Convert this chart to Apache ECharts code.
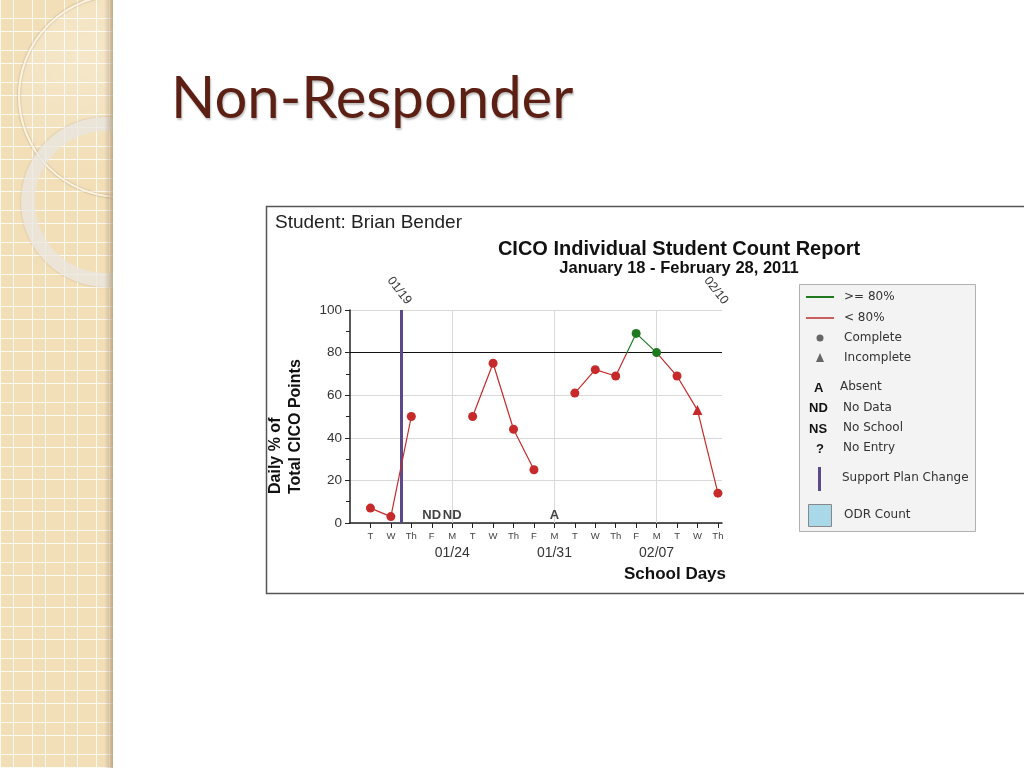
<!DOCTYPE html>
<html>
<head>
<meta charset="utf-8">
<title>Non-Responder</title>
<script src="https://cdn.jsdelivr.net/npm/echarts@6/dist/echarts.min.js"></script>
<style>
  html, body { margin: 0; padding: 0; width: 1024px; height: 768px; background: #fff; overflow: hidden; }
  #strip {
    position: absolute; left: 0; top: 0; width: 113px; height: 768px; overflow: hidden;
    background-color: #f2dfb8;
    background-image:
      repeating-linear-gradient(90deg, rgba(255,255,255,0.85) 0 1.5px, transparent 1.5px 13px, rgba(255,255,255,0.85) 13px 14.5px, transparent 14.5px 32px),
      repeating-linear-gradient(0deg, rgba(255,255,255,0.85) 0 1.5px, transparent 1.5px 13px, rgba(255,255,255,0.85) 13px 14.5px, transparent 14.5px 32px);
  }
  #strip .shade { position: absolute; right: 0; top: 0; width: 9px; height: 100%;
    background: linear-gradient(90deg, rgba(150,120,80,0) 0%, rgba(150,120,80,0.5) 100%); }
  #strip .ring1 { position: absolute; left: 18px; top: -6px; width: 200px; height: 200px; border-radius: 50%;
    border: 2px solid #fbf3e2; box-shadow: 0 0 2px rgba(120,90,50,0.6), inset 0 0 2px rgba(120,90,50,0.5);
    background: radial-gradient(circle at 30% 30%, rgba(255,255,255,0.25), rgba(255,255,255,0) 60%); }
  #strip .ring2 { position: absolute; left: 21px; top: 117px; width: 142px; height: 142px; border-radius: 50%;
    border: 14px solid rgba(232,230,226,0.75); box-shadow: 0 0 2px rgba(120,90,50,0.35); }
  #heading { position: absolute; left: 171px; top: 61px; margin: 0;
    font-family: Lato, "Open Sans", sans-serif; font-weight: 400; font-size: 58px; line-height: 70px;
    color: #5c1f14; text-shadow: 1px 2px 2px rgba(0,0,0,0.25); }
  #chart { position: absolute; left: 0; top: 0; width: 1024px; height: 768px; }
</style>
</head>
<body>
<div id="strip"><div class="ring1"></div><div class="ring2"></div><div class="shade"></div></div>
<h1 id="heading">Non-Responder</h1>
<div id="chart"></div>
<script>
  // school days, Tue 01/18 .. Thu 02/10
  const dayNames = ["T", "W", "Th", "F", "M", "T", "W", "Th", "F", "M", "T", "W", "Th", "F", "M", "T", "W", "Th"];
  const pctValues = [7, 3, 50, null, null, 50, 75, 44, 25, null, 61, 72, 69, 89, 80, 69, 53, 14];
  // C = complete, I = incomplete, ND = no data, A = absent
  const entryStatus = ["C", "C", "C", "ND", "ND", "C", "C", "C", "C", "A", "C", "C", "C", "C", "C", "C", "I", "C"];
  const weekIdx = [4, 9, 14];
  const weekText = ["01/24", "01/31", "02/07"];
  const topIdx = [1.5, 17];
  const topText = ["01/19", "02/10"];
  const planChangeIdx = [1.5];
  const goalPct = 80;

  const FONT = "Liberation Sans, Arial, sans-serif";
  const LFONT = "DejaVu Sans, sans-serif";
  const C = {
    above: "#1f7a1f", below: "#c62a2a", plan: "#5a4a8c", grid: "#d9d9d9",
    axis: "#222", text: "#333", legendBg: "#f3f3f3", legendBorder: "#b0b0b0",
  };

  const dayIdx = dayNames.map((_, i) => i);
  const lineData = pctValues.map((v, i) => {
    const item = { value: [i, v == null ? "-" : v] };
    if (entryStatus[i] === "I") { item.symbol = "triangle"; item.symbolSize = 10; }
    return item;
  });
  const statusData = entryStatus
    .map((s, i) => ({ s, i }))
    .filter((d) => d.s === "ND" || d.s === "A" || d.s === "NS" || d.s === "?")
    .map((d) => ({ value: [d.i, 0], name: d.s }));

  const chart = echarts.init(document.getElementById("chart"));

  const legendText = (x, y, text, bold) => ({
    type: "text", x, y,
    style: { text, fill: bold ? "#111" : C.text,
      font: bold ? "bold 13px " + FONT : "12px " + LFONT, verticalAlign: "middle" },
  });

  chart.setOption({
    backgroundColor: "transparent",
    animation: false,
    textStyle: { fontFamily: FONT },
    title: [
      { text: "Student: Brian Bender", left: 270, top: 208, textStyle: { fontSize: 19, fontWeight: "normal", color: "#222" } },
      { text: "CICO Individual Student Count Report", left: 674, top: 234, textAlign: "center",
        textStyle: { fontSize: 20, fontWeight: "bold", color: "#111" } },
      { text: "January 18 - February 28, 2011", left: 674, top: 255, textAlign: "center",
        textStyle: { fontSize: 16.5, fontWeight: "bold", color: "#111" } },
      { text: "School Days", left: 619, top: 561, textStyle: { fontSize: 17, fontWeight: "bold", color: "#111" } },
    ],
    grid: { left: 350, top: 310, width: 372, height: 213 },
    xAxis: [
      {
        type: "value", min: -1, max: 17.2, position: "bottom",
        axisLine: { show: true, onZero: false, lineStyle: { color: C.axis, width: 1.5 } },
        axisTick: { show: true, length: 5, customValues: dayIdx, lineStyle: { color: C.axis } },
        axisLabel: { customValues: dayIdx, formatter: (v) => dayNames[v] || "", fontSize: 9.5, color: "#444", margin: 8 },
        splitLine: { show: false },
      },
      {
        type: "value", min: -1, max: 17.2, position: "bottom", offset: 18,
        axisLine: { show: false }, axisTick: { show: false }, splitLine: { show: false },
        axisLabel: { customValues: weekIdx, formatter: (v) => weekText[weekIdx.indexOf(v)] || "", fontSize: 14, color: C.text, margin: 5 },
      },
      {
        type: "value", min: -1, max: 17.2, position: "top",
        axisLine: { show: false }, axisTick: { show: false }, splitLine: { show: false },
        axisLabel: { customValues: topIdx, formatter: (v) => topText[topIdx.indexOf(v)] || "", rotate: 52,
          align: "center", verticalAlign: "middle", fontSize: 12.5, color: C.text, margin: 17, padding: [0, 6, 0, 0] },
      },
    ],
    yAxis: {
      type: "value", min: 0, max: 100, interval: 20,
      axisLine: { show: true, onZero: false, lineStyle: { color: C.axis, width: 1.5 } },
      axisTick: { show: true, length: 5, lineStyle: { color: C.axis } },
      minorTick: { show: true, splitNumber: 2, length: 4, lineStyle: { color: C.axis } },
      axisLabel: { fontSize: 13.5, color: C.text, margin: 8 },
      splitLine: { show: true, lineStyle: { color: C.grid, width: 1 } },
    },
    visualMap: {
      type: "piecewise", show: false, seriesIndex: 0, dimension: 1,
      pieces: [{ gte: goalPct, lte: 100, color: C.above }, { gte: 0, lt: goalPct, color: C.below }],
      outOfRange: { color: C.below },
    },
    series: [
      {
        type: "line", name: "pct", data: lineData, connectNulls: false, z: 5,
        symbol: "circle", symbolSize: 9, lineStyle: { width: 1.2 },
      },
      {
        // Monday gridlines, goal line, support plan change
        type: "line", data: [], z: 2,
        markLine: {
          silent: true, symbol: "none", label: { show: false },
          data: weekIdx.map((x) => ({ xAxis: x, lineStyle: { color: C.grid, width: 1, type: "solid" } }))
            .concat([{ yAxis: goalPct, lineStyle: { color: "#111", width: 1, type: "solid" } }])
            .concat(planChangeIdx.map((x) => ({ xAxis: x, lineStyle: { color: C.plan, width: 3, type: "solid" } }))),
        },
      },
      {
        type: "scatter", data: statusData, symbolSize: 0, z: 6,
        label: { show: true, position: "top", distance: 1, formatter: (p) => p.name,
          fontSize: 13, fontWeight: "bold", color: "#111" },
      },
    ],
    graphic: [
      { type: "rect", shape: { x: 266.5, y: 206.5, width: 800, height: 387 }, z: -10,
        style: { fill: "#fff", stroke: "#555", lineWidth: 1.5 } },
      // y axis title, two lines start-aligned, reading bottom to top
      { type: "text", x: 286, y: 494, rotation: Math.PI / 2, z: 10,
        style: { text: "Daily % of\nTotal CICO Points", font: "bold 16px " + FONT, lineHeight: 20,
          fill: "#111", align: "left", verticalAlign: "middle" } },
      {
        type: "group", x: 799, y: 284, z: 10,
        children: [
          { type: "rect", shape: { x: 0.5, y: 0.5, width: 176, height: 247 }, style: { fill: C.legendBg, stroke: C.legendBorder, lineWidth: 1 } },
          { type: "line", shape: { x1: 7, y1: 13, x2: 35, y2: 13 }, style: { stroke: C.above, lineWidth: 2 } },
          legendText(45, 13, ">= 80%"),
          { type: "line", shape: { x1: 7, y1: 34, x2: 35, y2: 34 }, style: { stroke: "#c86060", lineWidth: 2 } },
          legendText(45, 34, "< 80%"),
          { type: "circle", shape: { cx: 21, cy: 54, r: 3.5 }, style: { fill: "#666" } },
          legendText(45, 54, "Complete"),
          { type: "polygon", shape: { points: [[21, 69], [25, 78], [17, 78]] }, style: { fill: "#666" } },
          legendText(45, 74, "Incomplete"),
          legendText(15, 104, "A", true),
          legendText(41, 103, "Absent"),
          legendText(10, 124, "ND", true),
          legendText(44, 124, "No Data"),
          legendText(10, 145, "NS", true),
          legendText(44, 144, "No School"),
          legendText(17, 165, "?", true),
          legendText(44, 164, "No Entry"),
          { type: "rect", shape: { x: 19, y: 183, width: 3, height: 24 }, style: { fill: C.plan } },
          legendText(43, 194, "Support Plan Change"),
          { type: "rect", shape: { x: 9.5, y: 220.5, width: 23, height: 22 }, style: { fill: "#a9d9e8", stroke: "#888", lineWidth: 1 } },
          legendText(45, 231, "ODR Count"),
        ],
      },
    ],
  });
</script>
</body>
</html>
